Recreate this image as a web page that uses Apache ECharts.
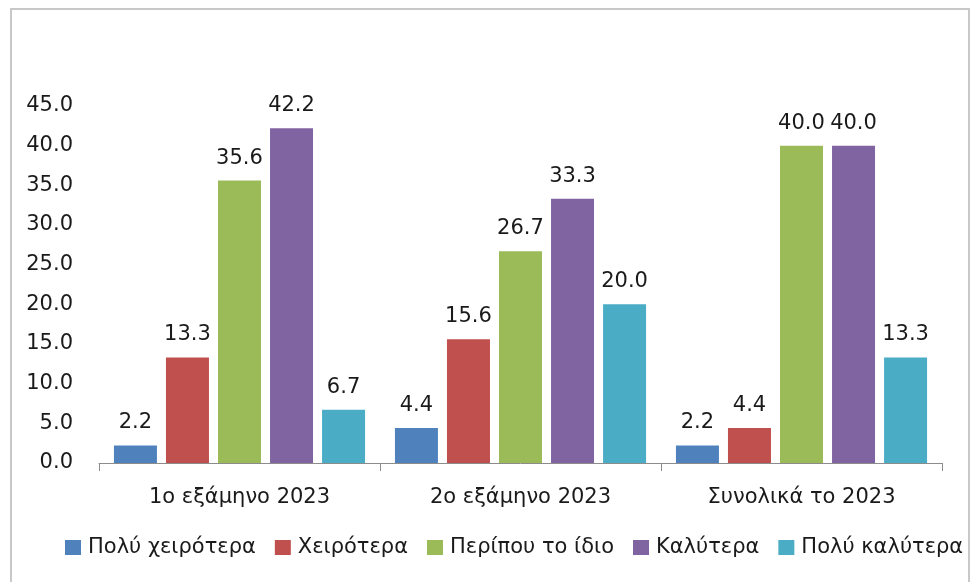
<!DOCTYPE html>
<html>
<head>
<meta charset="utf-8">
<script src="https://cdn.jsdelivr.net/npm/echarts@6/dist/echarts.min.js"></script>
<style>
html,body{margin:0;padding:0;background:#fff;}
#c{width:970px;height:582px;}
</style>
</head>
<body>
<div id="c"></div>
<script>
const categories = ['1ο εξάμηνο 2023', '2ο εξάμηνο 2023', 'Συνολικά το 2023'];
const seriesNames = ['Πολύ χειρότερα', 'Χειρότερα', 'Περίπου το ίδιο', 'Καλύτερα', 'Πολύ καλύτερα'];
const veryWorse = [2.2, 4.4, 2.2];
const worse = [13.3, 15.6, 4.4];
const same = [35.6, 26.7, 40.0];
const better = [42.2, 33.3, 40.0];
const veryBetter = [6.7, 20.0, 13.3];
const colors = ['#4F81BD', '#C0504D', '#9BBB59', '#8064A2', '#4BACC6'];

const values = [veryWorse, worse, same, better, veryBetter];
const font = 'DejaVu Sans';
const chart = echarts.init(document.getElementById('c'));
chart.setOption({
  animation: false,
  textStyle: { fontFamily: font },
  graphic: [{
    type: 'rect', left: 10, top: 8, z: -1,
    shape: { x: 0, y: 0, width: 958, height: 582 },
    style: { fill: '#fff', stroke: '#c8c8c8', lineWidth: 2 }
  }],
  grid: { left: 99, right: 28, top: 106, bottom: 119, containLabel: false },
  legend: {
    top: 532, left: 60,
    itemWidth: 16, itemHeight: 15, itemGap: 19,
    icon: 'rect',
    textStyle: { fontSize: 21, color: '#1a1a1a', fontFamily: font, padding: [0, 0, 0, 2] },
    data: seriesNames
  },
  xAxis: {
    type: 'category', data: categories,
    axisLine: { lineStyle: { color: '#8c8c8c', width: 1 } },
    axisTick: { show: true, length: 8, lineStyle: { color: '#8c8c8c' } },
    axisLabel: { fontSize: 21, color: '#1a1a1a', margin: 24, fontFamily: font }
  },
  yAxis: {
    type: 'value', min: 0, max: 45, interval: 5,
    axisLine: { show: false }, axisTick: { show: false },
    splitLine: { show: false },
    axisLabel: { fontSize: 21, color: '#1a1a1a', margin: 26, fontFamily: font,
      formatter: v => v.toFixed(1) }
  },
  series: values.map((d, i) => ({
    name: seriesNames[i], type: 'bar', data: d,
    barWidth: 43, barGap: '21%',
    itemStyle: { color: colors[i] },
    label: { show: true, position: 'top', distance: 12, fontSize: 21, color: '#1a1a1a',
      fontFamily: font, formatter: p => p.value.toFixed(1) }
  }))
});
</script>
</body>
</html>
